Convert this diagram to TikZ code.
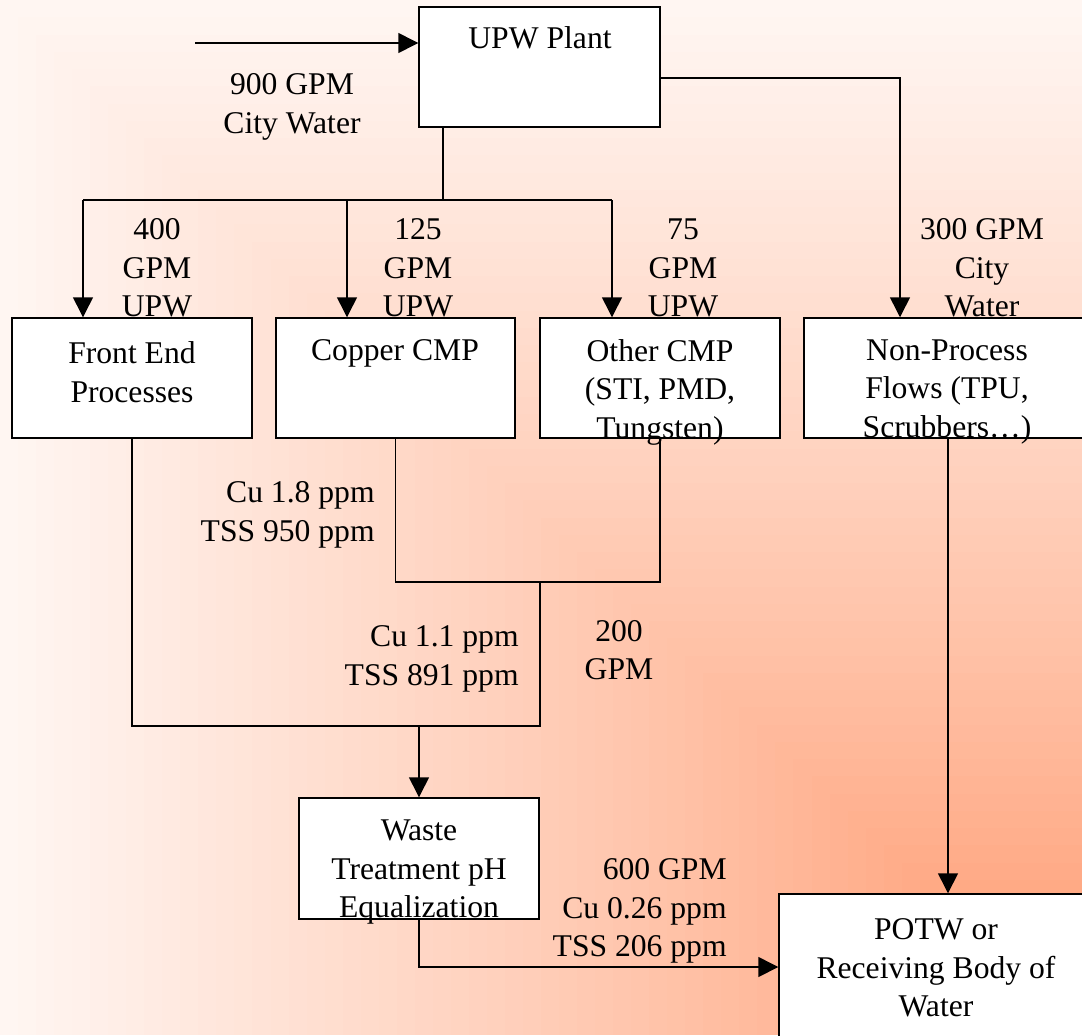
\documentclass[tikz,border=0pt]{standalone}
\usepackage{fontspec}
\setmainfont{Liberation Serif}
\usetikzlibrary{arrows.meta}
\definecolor{paperbg}{HTML}{FFF6F2}
\definecolor{coralbg}{HTML}{FF9466}
\begin{document}
\begin{tikzpicture}[x = 0.02cm, y = -0.02cm,
        box/.style = {draw, fill = white, line width = 0.85pt, inner sep = 0pt, minimum height = 2.4cm},
        txt/.style = {inner sep = 0pt, align = center, font = \fontsize{18}{21.9}\selectfont},
        pipe/.style = {line width = 0.85pt},
        flow/.style = {pipe, -{Triangle[length = 0.4cm, width = 0.4cm]}}]
        \useasboundingbox (0, 0) rectangle (1082, 1035);
        \clip (0, 0) rectangle (1082, 1035);
        % background, shaded from the lower right corner
        \foreach \i in {60, 59, ..., 1} {
            \pgfmathsetmacro{\t}{\i / 60}
            \pgfmathsetmacro{\pct}{100 * (1 - \t^0.8)}
            \fill[coralbg!\pct!paperbg] (1082 - 1082 * \t, 1035 - 1035 * \t) rectangle (1082, 1035);
        }
        % boxes
        \node[box, minimum width = 4.82cm] (upw) at (539.5, 67) {};
        \node[box, minimum width = 4.8cm] (front) at (132, 378) {};
        \node[box, minimum width = 4.78cm] (copper) at (395.5, 378) {};
        \node[box, minimum width = 4.8cm] (other) at (660, 378) {};
        \node[box, minimum width = 5.76cm] (nonproc) at (948, 378) {};
        \node[box, minimum width = 4.8cm, minimum height = 2.42cm] (waste) at (419, 858.5) {};
        \node[box, minimum width = 6.28cm, minimum height = 3.62cm] (potw) at (936, 984.5) {};
        % box texts
        \node[txt] (upwtext) at (540, 38) {UPW Plant};
        \node[txt] (fronttext) at (132, 372) {Front End\\Processes};
        \node[txt] (coppertext) at (395, 353.5) {Copper CMP};
        \node[txt] (othertext) at (660, 392) {Other CMP\\(STI, PMD,\\Tungsten)};
        \node[txt] (nonproctext) at (947, 392) {Non-Process\\Flows (TPU,\\Scrubbers…)};
        \node[txt] (wastetext) at (419, 872) {Waste\\Treatment pH\\Equalization};
        \node[txt] (potwtext) at (936, 968) {POTW or\\Receiving Body of\\Water};
        % flow labels
        \node[txt] (cityl) at (292, 107) {900 GPM\\City Water};
        \node[txt] (frontl) at (157, 268) {400\\GPM\\UPW};
        \node[txt] (copperl) at (418, 268) {125\\GPM\\UPW};
        \node[txt] (otherl) at (683, 268) {75\\GPM\\UPW};
        \node[txt] (nonprocl) at (982, 268) {300 GPM\\City\\Water};
        \node[txt, align = right, anchor = east] (cmpl) at (375, 515) {Cu 1.8 ppm\\TSS 950 ppm};
        \node[txt, align = right, anchor = east] (mixl) at (519, 659) {Cu 1.1 ppm\\TSS 891 ppm};
        \node[txt] (twohl) at (619, 650) {200\\GPM};
        \node[txt, align = right, anchor = east] (outl) at (727, 911) {600 GPM\\Cu 0.26 ppm\\TSS 206 ppm};
        % connectors
        \coordinate (cityin) at (195, 43);
        \coordinate (bus) at (443, 200);
        \coordinate (tapfront) at (83, 200);
        \coordinate (tapcopper) at (347, 200);
        \coordinate (tapother) at (612, 200);
        \coordinate (npturn) at (900, 78);
        \coordinate (cmpjoin) at (540, 582);
        \coordinate (mainjoin) at (540, 726);
        \coordinate (outturn) at (419, 967);
        \draw[flow] (cityin) -- (cityin -| upw.west);
        \draw[pipe] (upw.south -| bus) -- (bus);
        \draw[pipe] (tapfront) -- (tapother);
        \draw[flow] (tapfront) -- (tapfront |- front.north);
        \draw[flow] (tapcopper) -- (tapcopper |- copper.north);
        \draw[flow] (tapother) -- (tapother |- other.north);
        \draw[flow] (upw.east |- npturn) -- (npturn) -- (npturn |- nonproc.north);
        \draw[pipe] (copper.south) -- (copper.south |- cmpjoin) -- (other.south |- cmpjoin) -- (other.south);
        \draw[pipe] (cmpjoin) -- (mainjoin) -- (front.south |- mainjoin) -- (front.south);
        \draw[flow] (waste.north |- mainjoin) -- (waste.north);
        \draw[flow] (waste.south) -- (outturn) -- (outturn -| potw.west);
        \draw[flow] (nonproc.south) -- (nonproc.south |- potw.north);
    \end{tikzpicture}
\end{document}
